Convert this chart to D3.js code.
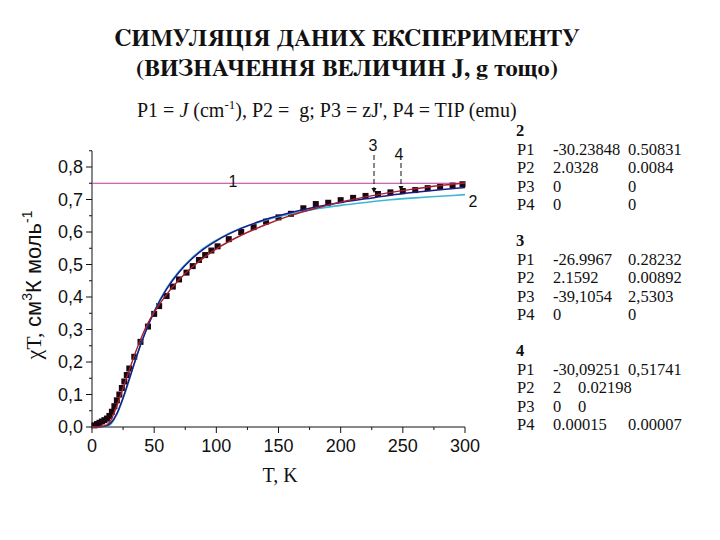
<html>
<head>
<meta charset="utf-8">
<style>
  body { margin: 0; background: #fff; }
  svg text { fill: #111; }
</style>
<script src="https://d3js.org/d3.v7.min.js"></script>
</head>
<body>
<div id="chart"></div>
<script>
  /*--- Data ---*/
  var dataT = [2, 4, 6, 8, 10, 12, 14, 16, 18, 20, 22, 24, 26, 28, 30, 34, 39, 45, 50, 54, 60, 65, 70, 76, 81, 86, 91, 96, 101,
    110, 120, 130, 140, 150, 160, 170, 180, 190, 200, 210, 220, 230, 240, 250, 260, 270, 280, 290, 298];
  var dataChiT = [0.005, 0.009, 0.013, 0.017, 0.021, 0.026, 0.034, 0.047, 0.064, 0.082, 0.1, 0.12, 0.14, 0.16, 0.18, 0.216, 0.262,
    0.309, 0.348, 0.372, 0.403, 0.432, 0.454, 0.475, 0.495, 0.514, 0.529, 0.543, 0.556,
    0.578, 0.6, 0.615, 0.632, 0.645, 0.656, 0.673, 0.686, 0.69, 0.698, 0.705, 0.711, 0.717, 0.722, 0.726, 0.729, 0.735, 0.739, 0.743, 0.747];

  var fitT = [0, 5, 10, 15, 20, 25, 30, 35, 40, 45, 50, 60, 70, 80, 90, 100, 120, 140, 160, 180, 200, 220, 240, 260, 280, 300];
  var fit2 = [0, 0, 0.0005, 0.009, 0.039, 0.087, 0.146, 0.207, 0.263, 0.313, 0.356, 0.427, 0.479, 0.519, 0.551, 0.575,
    0.612, 0.637, 0.656, 0.671, 0.682, 0.691, 0.699, 0.705, 0.710, 0.715];
  var fit3 = [0, 0, 0.003, 0.02, 0.065, 0.12, 0.175, 0.23, 0.278, 0.32, 0.353, 0.408, 0.453, 0.49, 0.521, 0.548,
    0.59, 0.623, 0.651, 0.673, 0.692, 0.708, 0.722, 0.733, 0.743, 0.751];
  var fit4 = [0, 0.001, 0.002, 0.012, 0.041, 0.09, 0.148, 0.207, 0.262, 0.311, 0.354, 0.424, 0.476, 0.516, 0.548, 0.573,
    0.611, 0.639, 0.66, 0.677, 0.691, 0.702, 0.713, 0.722, 0.73, 0.737];
  var line1T = [0, 300];
  var line1 = [0.75, 0.75];

  var xTicks = [0, 50, 100, 150, 200, 250, 300];
  var yTicks = [0, 0.1, 0.2, 0.3, 0.4, 0.5, 0.6, 0.7, 0.8];

  var tables = [
    { name: "2", rows: [["P1", "-30.23848", "0.50831"], ["P2", "2.0328", "0.0084"], ["P3", "0", "0"], ["P4", "0", "0"]] },
    { name: "3", rows: [["P1", "-26.9967", "0.28232"], ["P2", "2.1592", "0.00892"], ["P3", "-39,1054", "2,5303"], ["P4", "0", "0"]] },
    { name: "4", rows: [["P1", "-30,09251", "0,51741"], ["P2", "2", "0.02198"], ["P3", "0", "0"], ["P4", "0.00015", "0.00007"]] }
  ];

  // Liberation Serif here has no Cyrillic, FreeSerif does
  var SERIF = "'Liberation Serif', 'Times New Roman', serif",
    CYR_SERIF = "FreeSerif, 'Liberation Serif', serif",
    SANS = "'Liberation Sans', Arial, sans-serif";

  /*--- Setup ---*/
  var svg = d3.select("#chart").append("svg").attr("width", 720).attr("height", 540);

  var x = d3.scaleLinear().domain([0, 300]).range([92, 465]),
    y = d3.scaleLinear().domain([0, 0.8]).range([427, 167]);

  /*--- Titles ---*/
  svg.append("text").attr("x", 347).attr("y", 46)
    .attr("text-anchor", "middle").attr("font-family", CYR_SERIF).attr("font-size", 24).attr("font-weight", "bold")
    .text("СИМУЛЯЦІЯ ДАНИХ ЕКСПЕРИМЕНТУ");
  svg.append("text").attr("x", 347).attr("y", 76)
    .attr("text-anchor", "middle").attr("font-family", CYR_SERIF).attr("font-size", 24).attr("font-weight", "bold")
    .text("(ВИЗНАЧЕННЯ ВЕЛИЧИН J, g тощо)");

  var sub = svg.append("text").attr("x", 137).attr("y", 117).attr("font-family", SERIF).attr("font-size", 20);
  sub.append("tspan").text("P1 = ");
  sub.append("tspan").attr("font-style", "italic").text("J");
  sub.append("tspan").text(" (cm");
  sub.append("tspan").attr("dy", -8).attr("font-size", 13).text("-1");
  sub.append("tspan").attr("dy", 8).text("), P2 = \u00a0g; P3 = zJ', P4 = TIP (emu)");

  /*--- Axes ---*/
  var yMinor = d3.range(0, 0.851, 0.05);
  var xMinor = d3.range(0, 301, 25);

  var gy = svg.append("g").attr("stroke", "#111").attr("stroke-width", 1);
  gy.append("line").attr("x1", 92).attr("x2", 92).attr("y1", y(0.85)).attr("y2", y(0));
  gy.selectAll(".yt").data(yMinor).enter().append("line")
    .attr("x1", 92).attr("x2", function (d, i) { return i % 2 === 0 ? 86 : 89; })
    .attr("y1", function (d) { return y(d); }).attr("y2", function (d) { return y(d); });

  var gx = svg.append("g").attr("stroke", "#111").attr("stroke-width", 1);
  gx.append("line").attr("x1", x(0)).attr("x2", x(300)).attr("y1", 427).attr("y2", 427);
  gx.selectAll(".xt").data(xMinor).enter().append("line")
    .attr("x1", function (d) { return x(d); }).attr("x2", function (d) { return x(d); })
    .attr("y1", 427).attr("y2", function (d, i) { return i % 2 === 0 ? 433 : 430; });

  svg.selectAll(".ylbl").data(yTicks).enter().append("text")
    .attr("font-family", SANS).attr("font-size", 18)
    .attr("x", 83).attr("y", function (d) { return y(d) + 6; }).attr("text-anchor", "end")
    .text(function (d) { return d.toFixed(1).replace(".", ","); });

  svg.selectAll(".xlbl").data(xTicks).enter().append("text")
    .attr("font-family", SANS).attr("font-size", 18)
    .attr("x", function (d) { return x(d); }).attr("y", 452).attr("text-anchor", "middle")
    .text(function (d) { return d; });

  svg.append("text").attr("x", 280).attr("y", 482).attr("font-family", SERIF)
    .attr("text-anchor", "middle").attr("font-size", 20).text("T, K");

  var yl = svg.append("text").attr("transform", "translate(41,285) rotate(-90)")
    .attr("text-anchor", "middle").attr("font-size", 22).attr("font-family", SANS);
  yl.append("tspan").attr("font-family", SERIF).text("\u03c7T, ");
  yl.append("tspan").text("см");
  yl.append("tspan").attr("dy", -9).attr("font-size", 14).text("3");
  yl.append("tspan").attr("dy", 9).text("К моль");
  yl.append("tspan").attr("dy", -9).attr("font-size", 14).text("-1");

  /*--- Data and fits ---*/
  var sq = 6;
  svg.selectAll(".pt").data(dataT).enter().append("rect")
    .attr("x", function (d) { return x(d) - sq / 2; })
    .attr("y", function (d, i) { return y(dataChiT[i]) - sq / 2; })
    .attr("width", sq).attr("height", sq).attr("fill", "#1c0610");

  var line = d3.line().curve(d3.curveMonotoneX)
    .x(function (d) { return x(d[0]); }).y(function (d) { return y(d[1]); });

  function drawFit(ts, vs, color, w) {
    svg.append("path").datum(d3.zip(ts, vs)).attr("d", line)
      .attr("fill", "none").attr("stroke", color).attr("stroke-width", w);
  }
  drawFit(line1T, line1, "#b8389c", 1.2);
  drawFit(fitT, fit2, "#3cb8d2", 1.6);
  drawFit(fitT, fit4, "#1c1a86", 1.5);
  drawFit(fitT, fit3, "#a3202e", 1.4);

  /*--- Curve labels ---*/
  function lbl(xp, yp, s) {
    svg.append("text").attr("font-family", SANS).attr("font-size", 16).attr("text-anchor", "middle")
      .attr("x", xp).attr("y", yp).text(s);
  }
  lbl(233, 187, "1");
  lbl(473, 207, "2");
  lbl(373, 151, "3");
  lbl(399, 160, "4");

  function arrow(xp, y0, y1) {
    svg.append("line").attr("x1", xp).attr("x2", xp).attr("y1", y0).attr("y2", y1 - 4)
      .attr("stroke", "#111").attr("stroke-width", 1).attr("stroke-dasharray", "5,3");
    svg.append("path").attr("d", "M" + (xp - 2.5) + "," + (y1 - 5) + "L" + (xp + 2.5) + "," + (y1 - 5) + "L" + xp + "," + y1 + "Z")
      .attr("fill", "#111");
  }
  arrow(374, 155, 193);
  arrow(401, 163, 191);

  /*--- Parameter tables ---*/
  tables.forEach(function (tb, k) {
    var top = 136 + k * 110;
    var g = svg.append("g").attr("font-family", SERIF).attr("font-size", 16.5).attr("fill", "#222");
    g.append("text").attr("x", 516).attr("y", top).attr("font-weight", "bold").text(tb.name);
    tb.rows.forEach(function (r, i) {
      var yy = top + 18.5 * (i + 1);
      var c2 = (k === 2 && (i === 1 || i === 2)) ? 578 : 628;
      g.append("text").attr("x", 517).attr("y", yy).text(r[0]);
      g.append("text").attr("x", 553).attr("y", yy).text(r[1]);
      g.append("text").attr("x", c2).attr("y", yy).text(r[2]);
    });
  });
</script>
</body>
</html>
